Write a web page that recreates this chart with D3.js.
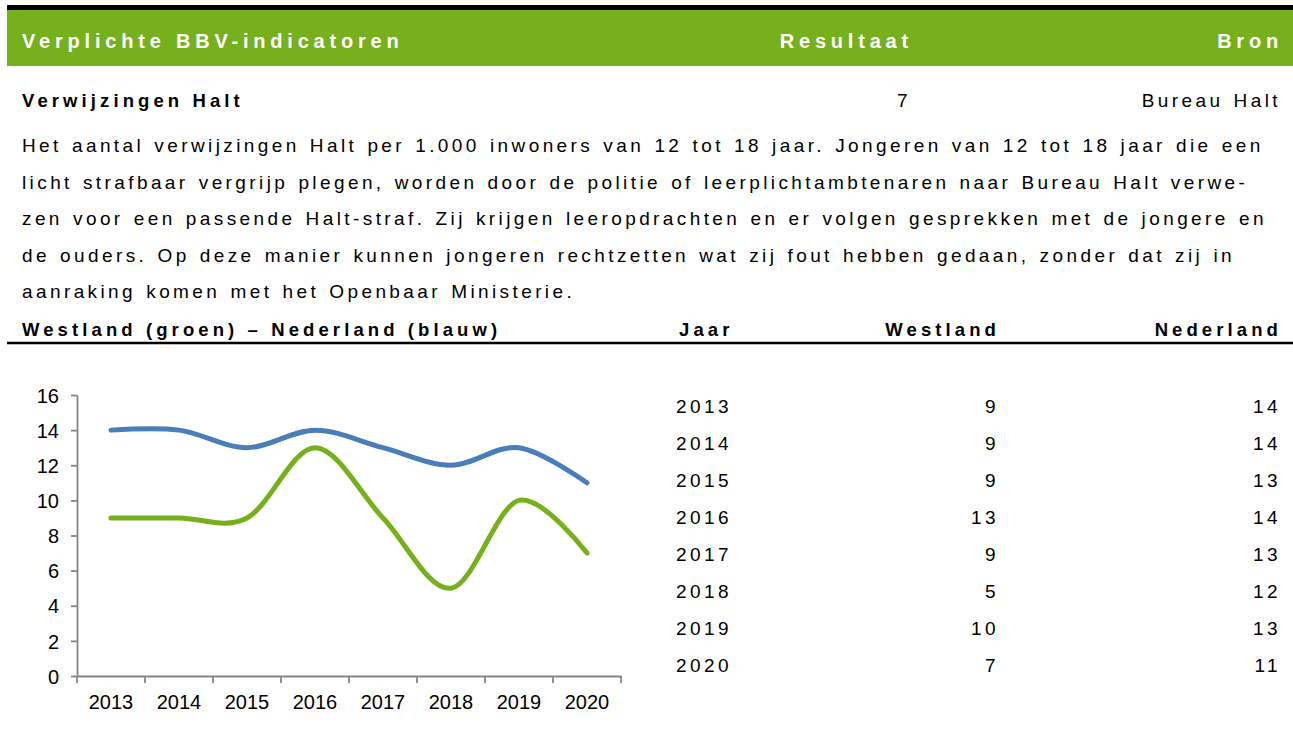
<!DOCTYPE html>
<html>
<head>
<meta charset="utf-8">
<script src="https://cdn.jsdelivr.net/npm/d3@7"></script>
<style>
  body { margin: 0; background: #fff; }
  svg { display: block; font-family: "Liberation Sans", Arial, sans-serif; }
</style>
</head>
<body>
<svg id="page"></svg>
<script>
var width = 1293;
var height = 743;

// data
var years = [2013, 2014, 2015, 2016, 2017, 2018, 2019, 2020];
var westland = [9, 9, 9, 13, 9, 5, 10, 7];
var nederland = [14, 14, 13, 14, 13, 12, 13, 11];
var yTicks = [0, 2, 4, 6, 8, 10, 12, 14, 16];

var paragraph = [
  "Het aantal verwijzingen Halt per 1.000 inwoners van 12 tot 18 jaar. Jongeren van 12 tot 18 jaar die een",
  "licht strafbaar vergrijp plegen, worden door de politie of leerplichtambtenaren naar Bureau Halt verwe-",
  "zen voor een passende Halt-straf. Zij krijgen leeropdrachten en er volgen gesprekken met de jongere en",
  "de ouders. Op deze manier kunnen jongeren rechtzetten wat zij fout hebben gedaan, zonder dat zij in",
  "aanraking komen met het Openbaar Ministerie."
];

var green = "#76b01c";
var blue = "#4a7ebb";
var axisGrey = "#868686";

// regular text style
function plain(sel) {
  return sel.style("font-size", "19px")
    .style("letter-spacing", "3.4px")
    .style("word-spacing", "1.5px");
}
// bold text style
function heavy(sel, size, ls) {
  return sel.style("font-weight", "bold")
    .style("font-size", size + "px")
    .style("letter-spacing", ls + "px");
}

var svg = d3.select("#page")
  .attr("width", width)
  .attr("height", height);

// top bars
svg.append("rect").attr("x", 7).attr("y", 5).attr("width", width - 7).attr("height", 5).attr("fill", "#000");
svg.append("rect").attr("x", 7).attr("y", 10).attr("width", width - 7).attr("height", 56).attr("fill", green);

var head = heavy(svg.append("g").attr("fill", "#fff"), 20, 4.8);
head.append("text").attr("x", 22).attr("y", 48).text("Verplichte BBV-indicatoren");
head.append("text").attr("x", 913).attr("y", 48).attr("text-anchor", "end").text("Resultaat");
head.append("text").attr("x", 1283).attr("y", 48).attr("text-anchor", "end").text("Bron");

// indicator row
heavy(svg.append("text"), 18.5, 4.1).attr("x", 22).attr("y", 107).text("Verwijzingen Halt");
plain(svg.append("text")).attr("x", 911).attr("y", 107).attr("text-anchor", "end")
  .text(westland[westland.length - 1]);
plain(svg.append("text")).attr("x", 1281).attr("y", 107).attr("text-anchor", "end")
  .text("Bureau Halt");

// description
plain(svg.append("g"))
  .selectAll("text")
  .data(paragraph)
  .join("text")
  .attr("x", 22)
  .attr("y", function (d, i) { return 152 + i * 36.5; })
  .text(function (d) { return d; });

// sub header
var sub = heavy(svg.append("g"), 18.5, 4.1);
sub.append("text").attr("x", 22).attr("y", 336).text("Westland (groen) \u2013 Nederland (blauw)");
sub.append("text").attr("x", 679).attr("y", 336).text("Jaar");
sub.append("text").attr("x", 1000).attr("y", 336).attr("text-anchor", "end").text("Westland");
sub.append("text").attr("x", 1282).attr("y", 336).attr("text-anchor", "end").text("Nederland");
svg.append("line").attr("x1", 7).attr("x2", width).attr("y1", 343).attr("y2", 343)
  .attr("stroke", "#000").attr("stroke-width", 2.5);

// chart
var x = d3.scaleBand().domain(years).range([77, 621]);
var y = d3.scaleLinear().domain([0, 16]).range([676, 395]);

var xAxis = svg.append("g")
  .attr("transform", "translate(0,676)")
  .call(d3.axisBottom(x).tickSize(0).tickPadding(19));
var yAxis = svg.append("g")
  .attr("transform", "translate(77,0)")
  .call(d3.axisLeft(y).tickValues(yTicks).tickSize(6).tickPadding(12).tickSizeOuter(0));

[xAxis, yAxis].forEach(function (a) {
  a.select(".domain").attr("stroke", axisGrey).attr("stroke-width", 1.8);
  a.selectAll(".tick line").attr("stroke", axisGrey).attr("stroke-width", 1.8);
  a.selectAll("text").attr("fill", "#000").style("font-size", "20px")
    .style("font-family", "'Liberation Sans', Arial, sans-serif");
});
yAxis.selectAll(".tick text").attr("dy", "0.36em");

// category boundary ticks on the x axis
var bounds = years.map(function (d) { return x(d); }).concat([x.range()[1]]);
xAxis.selectAll(".bound")
  .data(bounds)
  .join("line")
  .attr("class", "bound")
  .attr("x1", function (d) { return d; })
  .attr("x2", function (d) { return d; })
  .attr("y1", 0).attr("y2", 7)
  .attr("stroke", axisGrey).attr("stroke-width", 1.8);

var line = d3.line()
  .x(function (d, i) { return x(years[i]) + x.bandwidth() / 2; })
  .y(function (d) { return y(d); })
  .curve(d3.curveCatmullRom.alpha(0));

svg.append("path").datum(nederland)
  .attr("d", line).attr("fill", "none")
  .attr("stroke", blue).attr("stroke-width", 5).attr("stroke-linecap", "round");
svg.append("path").datum(westland)
  .attr("d", line).attr("fill", "none")
  .attr("stroke", green).attr("stroke-width", 5).attr("stroke-linecap", "round");

// table
var rows = plain(svg.append("g"))
  .selectAll("g")
  .data(years)
  .join("g")
  .attr("transform", function (d, i) { return "translate(0," + (413 + i * 37) + ")"; });
rows.append("text").attr("x", 676).text(function (d) { return d; });
rows.append("text").attr("x", 999).attr("text-anchor", "end").text(function (d, i) { return westland[i]; });
rows.append("text").attr("x", 1281).attr("text-anchor", "end").text(function (d, i) { return nederland[i]; });
</script>
</body>
</html>
